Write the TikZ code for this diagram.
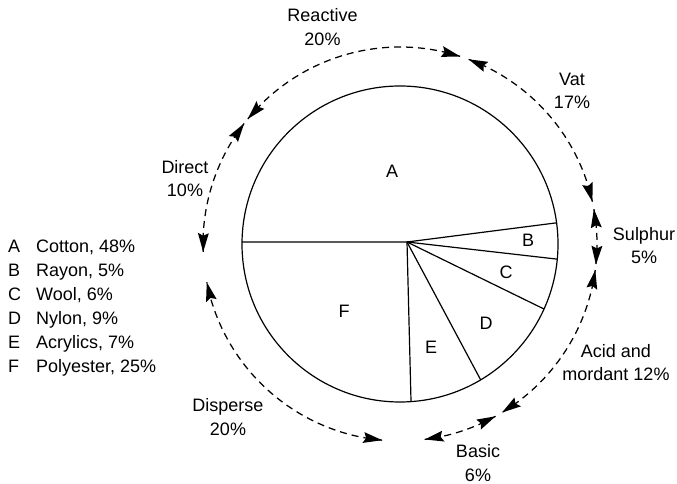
\documentclass[tikz,border=0pt]{standalone}
\usepackage{fontspec}
\setmainfont{Liberation Sans}
\tikzset{
  lbl/.style={inner sep=0pt, align=center, font=\fontsize{18}{23.5}\selectfont},
  pieline/.style={line width=1.2pt},
  outarc/.style={line width=1.25pt, dash pattern=on 7pt off 5pt},
}
% filled arrow tip on the outer ring: angle of tip, direction (+1 = towards larger angle)
\newcommand\ringtip[2]{%
  \pgfmathsetmacro\tipA{#1}%
  \pgfmathsetmacro\tipB{#1-(#2)*5.5}%
  \pgfmathsetmacro\tipC{#1-(#2)*4.7}%
  \fill ([shift={(O)}]\tipA:197) -- ([shift={(O)}]\tipB:191.5)
        -- ([shift={(O)}]\tipC:197) -- ([shift={(O)}]\tipB:202.5) -- cycle;}
% dashed arc between two angles with tips at both ends
\newcommand\ringarc[2]{%
  \draw[outarc] ([shift={(O)}]#1:197) arc[start angle=#1, end angle=#2, radius=197];
  \pgfmathsetmacro\dirs{(#2>#1)?-1:1}%
  \pgfmathsetmacro\dirt{-\dirs}%
  \ringtip{#1}{\dirs}\ringtip{#2}{\dirt}}
\begin{document}
\begin{tikzpicture}[x=1pt,y=1pt]
\useasboundingbox (0,0) rectangle (677,484);
\coordinate (O) at (400,240);
\coordinate (P) at (407,242);
% pie
\draw[pieline] (O) circle[radius=158];
\draw[pieline] (P) -- ([shift={(O)}]179.3:158);
\draw[pieline] (P) -- ([shift={(O)}]7.7:158);
\draw[pieline] (P) -- ([shift={(O)}]-5.5:158);
\draw[pieline] (P) -- ([shift={(O)}]-24.3:158);
\draw[pieline] (P) -- ([shift={(O)}]-59.3:158);
\draw[pieline] (P) -- ([shift={(O)}]-86:158);
\node[lbl] (A) at (392,313) {A};
\node[lbl] (B) at (528,244) {B};
\node[lbl] (C) at (506,212) {C};
\node[lbl] (D) at (486,161) {D};
\node[lbl] (E) at (431,137) {E};
\node[lbl] (F) at (344,173) {F};
% outer arcs
\ringarc{140.6}{72.2}
\ringarc{69.6}{12.4}
\ringarc{10.2}{-6.0}
\ringarc{-7.6}{-58.8}
\ringarc{-61.0}{-82.8}
\ringarc{-95.2}{-168.8}
\ringarc{182.3}{142.3}
% arc labels
\node[lbl] (reactive) at (322.5,457) {Reactive\\20\%};
\node[lbl] (vat) at (572,393) {Vat\\17\%};
\node[lbl] (sulphur) at (644,238.5) {Sulphur\\5\%};
\node[lbl] (acid) at (616,121.5) {Acid and\\mordant 12\%};
\node[lbl] (basic) at (478,21) {Basic\\6\%};
\node[lbl] (disperse) at (228,67) {Disperse\\20\%};
\node[lbl] (direct) at (185,305.5) {Direct\\10\%};
% legend
\foreach \l/\t [count=\i] in {A/{Cotton, 48\%},B/{Rayon, 5\%},C/{Wool, 6\%},D/{Nylon, 9\%},E/{Acrylics, 7\%},F/{Polyester, 25\%}}{
  \node[lbl, anchor=base west] (lk\i) at (8,{231.5-24*(\i-1)}) {\l};
  \node[lbl, anchor=base west] (lt\i) at (36,{231.5-24*(\i-1)}) {\t};
}
\end{tikzpicture}
\end{document}
